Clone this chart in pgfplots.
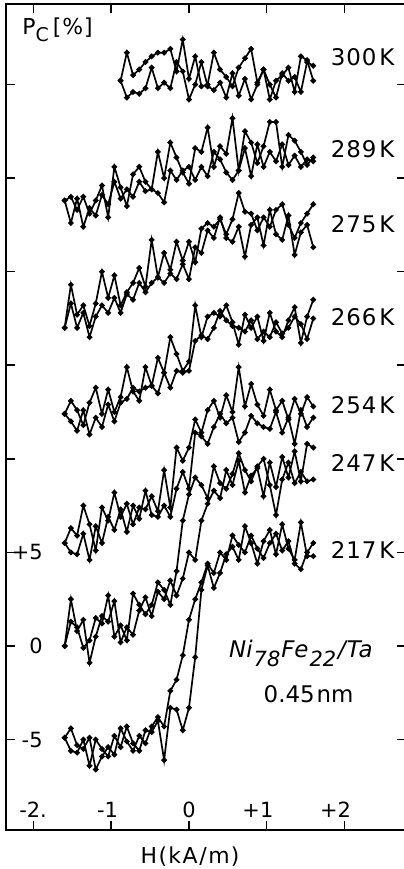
\documentclass[border=0pt]{standalone}
\usepackage{pgfplots}
\pgfplotsset{compat=1.18}
\usepackage{pgfplotstable}
\usepackage{fontspec}
\setmainfont{DejaVu Sans}
\pgfplotsset{curve/.style={black, solid, line width=0.85bp, mark=*, mark size=0.95bp, mark options={solid, fill=black}}}

% 217 K
\pgfplotstableread{
x a b
-1.60 -4.9 -4.9
-1.52 -5.6 -4.4
-1.44 -5.7 -5.3
-1.36 -5.0 -5.5
-1.28 -6.4 -4.9
-1.20 -5.0 -6.6
-1.12 -5.5 -5.9
-1.04 -5.9 -5.4
-0.96 -4.8 -5.8
-0.88 -5.4 -4.4
-0.80 -4.3 -5.1
-0.72 -5.2 -5.6
-0.64 -5.6 -4.8
-0.56 -4.5 -5.2
-0.48 -4.6 -4.3
-0.40 -4.0 -3.8
-0.32 -6.1 -4.3
-0.24 -3.3 -2.4
-0.16 -3.4 -1.8
-0.08 -4.5 -0.5
0.00 -3.3 1.4
0.08 -0.6 2.5
0.16 3.0 3.4
0.24 4.3 4.4
0.32 3.1 3.9
0.40 3.9 5.0
0.48 4.9 4.6
0.56 5.3 5.9
0.64 4.6 5.4
0.72 6.4 5.0
0.80 5.5 5.9
0.88 4.4 5.2
0.96 5.6 4.7
1.04 6.2 5.5
1.12 4.9 6.0
1.20 6.5 5.1
1.28 5.2 5.6
1.36 4.6 4.4
1.44 6.6 4.1
1.52 4.8 5.0
1.60 4.8 5.5
}\tA

% 247 K
\pgfplotstableread{
x a b
-1.60 0.0 0.0
-1.52 1.3 2.5
-1.44 1.0 0.8
-1.36 -0.1 1.4
-1.28 0.3 -0.9
-1.20 1.5 0.5
-1.12 1.2 1.6
-1.04 2.7 1.3
-0.96 0.5 2.4
-0.88 1.1 0.2
-0.80 0.3 1.0
-0.72 2.8 0.6
-0.64 2.2 1.9
-0.56 1.7 2.6
-0.48 2.2 1.6
-0.40 3.4 2.9
-0.32 3.0 2.5
-0.24 2.2 3.5
-0.16 4.0 2.7
-0.08 6.7 3.6
0.00 8.1 5.0
0.08 9.0 4.6
0.16 8.6 6.7
0.24 7.9 7.6
0.32 9.6 8.3
0.40 8.7 7.9
0.48 8.4 9.4
0.56 9.2 8.6
0.64 10.3 9.9
0.72 9.4 8.2
0.80 8.8 9.1
0.88 9.6 9.5
0.96 10.0 8.0
1.04 8.6 9.8
1.12 7.0 8.5
1.20 8.9 10.1
1.28 9.8 9.0
1.36 8.7 10.4
1.44 9.3 8.8
1.52 8.8 10.8
1.60 8.9 10.6
}\tB

% 254 K
\pgfplotstableread{
x a b
-1.60 5.5 5.5
-1.52 6.3 5.0
-1.44 5.9 4.9
-1.36 7.5 6.0
-1.28 6.5 4.6
-1.20 5.1 6.4
-1.12 7.4 5.5
-1.04 6.7 6.9
-0.96 8.2 6.2
-0.88 6.9 7.3
-0.80 7.6 6.1
-0.72 6.5 7.5
-0.64 7.4 6.8
-0.56 7.3 8.3
-0.48 8.0 7.0
-0.40 7.2 6.9
-0.32 9.4 7.5
-0.24 7.4 6.9
-0.16 10.6 8.4
-0.08 9.9 9.3
0.00 10.6 8.4
0.08 12.1 11.4
0.16 11.4 11.2
0.24 12.6 10.8
0.32 13.1 11.7
0.40 12.2 12.4
0.48 13.4 11.9
0.56 12.5 12.2
0.64 14.9 10.9
0.72 12.8 11.4
0.80 14.0 12.3
0.88 12.9 11.9
0.96 12.3 11.7
1.04 13.7 11.6
1.12 12.6 12.5
1.20 13.1 11.4
1.28 12.1 12.2
1.36 13.2 10.8
1.44 12.4 12.6
1.52 13.3 11.7
1.60 12.8 12.2
}\tC

% 266 K
\pgfplotstableread{
x a b
-1.60 12.4 12.4
-1.52 13.1 12.0
-1.44 12.6 11.5
-1.36 11.8 12.6
-1.28 13.0 11.3
-1.20 13.8 12.2
-1.12 12.4 11.7
-1.04 13.7 12.9
-0.96 12.5 12.0
-0.88 13.3 13.0
-0.80 14.9 13.2
-0.72 13.6 13.8
-0.64 13.1 13.6
-0.56 14.9 13.8
-0.48 13.9 13.9
-0.40 15.4 13.5
-0.32 14.6 14.6
-0.24 16.5 13.8
-0.16 15.6 14.7
-0.08 14.7 14.6
0.00 15.2 14.7
0.08 18.2 16.3
0.16 16.5 16.6
0.24 17.6 16.4
0.32 17.8 17.0
0.40 17.6 17.9
0.48 18.2 17.4
0.56 17.3 17.1
0.64 16.1 17.0
0.72 17.7 16.8
0.80 17.0 17.4
0.88 17.6 16.4
0.96 16.3 16.8
1.04 17.8 16.5
1.12 16.8 17.3
1.20 16.5 16.7
1.28 17.4 17.0
1.36 18.1 17.6
1.44 16.2 17.2
1.52 17.6 16.4
1.60 18.5 17.5
}\tD

% 275 K
\pgfplotstableread{
x a b
-1.60 17.0 17.0
-1.52 19.3 18.3
-1.44 17.7 17.0
-1.36 18.2 17.8
-1.28 17.1 16.5
-1.20 18.3 17.6
-1.12 20.0 18.2
-1.04 18.6 17.8
-0.96 19.8 18.6
-0.88 18.2 17.8
-0.80 18.9 18.8
-0.72 19.4 18.5
-0.64 20.2 19.4
-0.56 19.2 18.9
-0.48 21.7 19.4
-0.40 19.7 19.7
-0.32 21.0 19.4
-0.24 20.1 19.9
-0.16 21.6 19.6
-0.08 20.6 20.4
0.00 21.6 19.6
0.08 20.5 21.3
0.16 22.3 21.0
0.24 22.6 22.2
0.32 22.4 21.8
0.40 22.8 22.9
0.48 22.0 21.8
0.56 22.8 21.6
0.64 24.2 22.4
0.72 23.2 20.8
0.80 23.1 22.5
0.88 22.2 22.9
0.96 22.9 21.4
1.04 22.4 23.3
1.12 23.3 22.0
1.20 23.6 21.7
1.28 22.5 23.0
1.36 21.8 20.9
1.44 22.6 22.1
1.52 23.1 22.5
1.60 23.6 21.3
}\tE

% 289 K
\pgfplotstableread{
x a b
-1.60 23.8 23.8
-1.52 24.0 22.6
-1.44 23.3 23.9
-1.36 24.0 22.4
-1.28 23.1 23.4
-1.20 23.8 23.0
-1.12 24.6 24.1
-1.04 22.9 23.6
-0.96 25.6 24.8
-0.88 24.5 23.9
-0.80 23.5 24.4
-0.72 25.2 24.0
-0.64 25.6 24.8
-0.56 24.8 24.3
-0.48 24.4 24.4
-0.40 26.4 24.2
-0.32 25.0 23.7
-0.24 26.9 25.4
-0.16 26.1 24.9
-0.08 25.3 25.4
0.00 24.7 25.6
0.08 26.6 24.9
0.16 26.4 25.6
0.24 27.7 25.1
0.32 25.6 26.4
0.40 26.7 26.0
0.48 26.3 25.3
0.56 28.2 24.9
0.64 25.4 25.4
0.72 27.5 26.6
0.80 26.9 25.1
0.88 25.8 26.8
0.96 26.7 25.6
1.04 28.0 26.4
1.12 28.0 25.9
1.20 25.6 26.8
1.28 27.3 25.7
1.36 27.0 26.2
1.44 26.4 25.6
1.52 25.7 26.0
1.60 26.1 25.9
}\tF

% 300 K
\pgfplotstableread{
x a b
-0.88 30.2 30.2
-0.80 31.7 29.3
-0.72 30.5 29.6
-0.64 30.8 29.5
-0.56 31.2 29.8
-0.48 31.5 30.9
-0.40 31.7 29.8
-0.32 31.7 30.1
-0.24 31.9 29.8
-0.16 30.7 31.2
-0.08 32.4 30.7
0.00 30.3 29.2
0.08 31.5 30.0
0.16 29.9 31.2
0.24 30.0 29.9
0.32 31.7 29.7
0.40 30.8 30.1
0.48 30.4 29.3
0.56 29.9 30.6
0.64 30.9 29.4
0.72 31.4 30.3
0.80 31.9 29.2
0.88 30.1 30.0
0.96 30.8 30.8
1.04 29.2 30.0
1.12 30.2 29.3
1.20 30.5 30.6
1.28 30.9 30.2
1.36 29.6 30.4
1.44 31.5 29.6
1.52 31.3 31.2
1.60 30.2 31.0
}\tG

\begin{document}
\begin{tikzpicture}
\begin{axis}[
  at={(0,0)}, anchor=south west,
  scale only axis, width=200bp, height=413bp,
  xmin=-2.355, xmax=2.793, ymin=-9.83, ymax=34.3,
  axis line style={line width=1bp},
  every tick/.style={black, line width=0.8bp},
  tick align=inside, major tick length=4.5bp,
  xtick={-2,-1,0,1,2},
  xticklabels={\llap{-}2\rlap{.},\llap{-}1,0,\llap{+}1,\llap{+}2},
  ytick={-5,0,5,10,15,20,25,30},
  yticklabels={-5,0,+5,{},{},{},{},{}},
  ticklabel style={font=\fontsize{10.5}{10.5}\selectfont, inner sep=0pt},
  xticklabel style={anchor=base, yshift=6.5bp},
  yticklabel style={anchor=east, xshift=18.5bp},
  xlabel={H\kern0.8pt(\kern0.6pt k\kern0.8pt A\kern0.8pt/\kern0.8pt m\kern0.6pt)},
  xlabel style={at={(axis description cs:0.46,0)}, anchor=base, yshift=-16.5bp, font=\fontsize{11}{11}\selectfont},
  clip=false,
]
\addplot[curve] table[x=x,y=a]{\tA};
\addplot[curve] table[x=x,y=b]{\tA};
\addplot[curve] table[x=x,y=a]{\tB};
\addplot[curve] table[x=x,y=b]{\tB};
\addplot[curve] table[x=x,y=a]{\tC};
\addplot[curve] table[x=x,y=b]{\tC};
\addplot[curve] table[x=x,y=a]{\tD};
\addplot[curve] table[x=x,y=b]{\tD};
\addplot[curve] table[x=x,y=a]{\tE};
\addplot[curve] table[x=x,y=b]{\tE};
\addplot[curve] table[x=x,y=a]{\tF};
\addplot[curve] table[x=x,y=b]{\tF};
\addplot[curve] table[x=x,y=a]{\tG};
\addplot[curve] table[x=x,y=b]{\tG};

\begin{scope}[every node/.style={anchor=base west, inner sep=0pt, font=\fontsize{11.5}{11.5}\selectfont}]
\node at (axis cs:1.82,31.0) {3\kern0.5pt 0\kern0.5pt 0\kern1.5pt K};
\node at (axis cs:1.82,26.1) {2\kern0.5pt 8\kern0.5pt 9\kern1.5pt K};
\node at (axis cs:1.82,22.1) {2\kern0.5pt 7\kern0.5pt 5\kern1.5pt K};
\node at (axis cs:1.82,17.1) {2\kern0.5pt 6\kern0.5pt 6\kern1.5pt K};
\node at (axis cs:1.82,12.4) {2\kern0.5pt 5\kern0.5pt 4\kern1.5pt K};
\node at (axis cs:1.82,9.3) {2\kern0.5pt 4\kern0.5pt 7\kern1.5pt K};
\node at (axis cs:1.82,4.7) {2\kern0.5pt 1\kern0.5pt 7\kern1.5pt K};
\end{scope}
\node[anchor=base west, inner sep=0pt, font=\fontsize{11}{11}\selectfont]
  at (axis description cs:0.04,0.9625) {P\raisebox{-3.5bp}{\fontsize{9.5}{9.5}\selectfont C}\kern2pt [\kern0.5pt\%\kern0.5pt]};
\node[anchor=base, inner sep=0pt, font=\fontsize{11.5}{11.5}\selectfont\itshape]
  at (axis cs:1.44,-0.64) {Ni\kern0.5pt\raisebox{-4.5bp}{\fontsize{10.5}{10.5}\selectfont 78}\kern0.5pt Fe\kern0.5pt\raisebox{-4.5bp}{\fontsize{10.5}{10.5}\selectfont 22}\kern1pt/\kern0.5pt Ta};
\node[anchor=base, inner sep=0pt, font=\fontsize{11.5}{11.5}\selectfont]
  at (axis cs:1.54,-3.0) {0.45\kern1pt nm};
\end{axis}
\pgfresetboundingbox
\useasboundingbox (-3bp,-19.5bp) rectangle (199bp,415bp);
\end{tikzpicture}
\end{document}
